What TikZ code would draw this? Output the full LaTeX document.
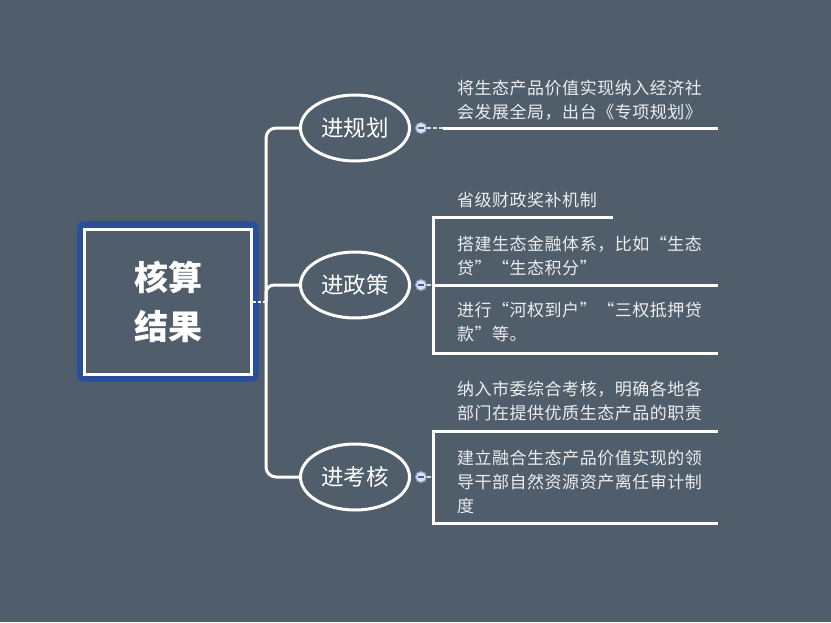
\documentclass[tikz,border=0pt]{standalone}
\usepackage{fontspec}
\newfontfamily\cjk{Noto Sans CJK SC}
\newfontfamily\cjkls{Noto Sans CJK SC}[LetterSpace=3]
\usetikzlibrary{shapes.geometric}
\definecolor{bg}{HTML}{505D6A}
\definecolor{boxblue}{HTML}{2B4E9B}
\definecolor{txt}{HTML}{ECEDEF}
\definecolor{knobfill}{HTML}{DCE1EA}
\definecolor{knobline}{HTML}{8C9CC4}
\definecolor{knobminus}{HTML}{4A5E96}
\tikzset{
  ln/.style={draw=white, line width=3pt},
  stub/.style={draw=white!80!bg, line width=2.5pt, dash pattern=on 4pt off 2pt},
  topic/.style={ellipse, draw=white, line width=3pt, fill=bg, minimum width=109pt, minimum height=66pt, inner sep=0pt, text=white, font=\cjk\fontsize{22.5}{26}\selectfont},
  knob/.style={circle, draw=knobline, fill=knobfill, line width=1pt, minimum size=11pt, inner sep=0pt},
  para/.style={anchor=west, align=left, inner sep=0pt, text=txt, font=\cjkls\fontsize{17}{24}\selectfont},
}
\begin{document}
\begin{tikzpicture}[x=1pt,y=-1pt]
\fill[bg] (0,0) rectangle (831,622);
\useasboundingbox (0,0) rectangle (831,622);

% central node
\node[rectangle, draw=white, line width=3pt, fill=bg, minimum width=166.5pt, minimum height=145pt,
      preaction={draw=boxblue, line width=16pt, line join=round},
      align=center, text=white, font=\cjk\fontsize{34}{49}\selectfont\bfseries]
  (c) at (168,301.5) {核算\\结果};

\coordinate (j) at (266,301.5);

% topics
\node[topic] (e1) at (355,128) {进规划};
\node[topic] (e2) at (355,285) {进政策};
\node[topic] (e3) at (355,477) {进考核};

% trunk
\draw[draw=white, line width=2pt, dash pattern=on 3pt off 2pt] (c.east) -- (j);
\draw[ln, rounded corners=10pt] (j) |- (e1.west);
\draw[ln, rounded corners=8pt] (j) |- (e2.west);
\draw[ln, rounded corners=10pt] (j) |- (e3.west);

% knobs
\node[knob] (k1) at (421,128) {};
\node[knob] (k2) at (421,285) {};
\node[knob] (k3) at (421,477) {};

% branch 1
\coordinate (s1) at (443,128);
\coordinate (r1) at (718,128);
\draw[stub] (k1.east) -- (s1);
\draw[ln] (s1) -- (r1);

% branch 2
\coordinate (b2t) at (433,217);
\coordinate (b2b) at (433,353);
\coordinate (t2e) at (613,217);
\coordinate (m2e) at (718,285);
\coordinate (b2e) at (718,353);
\coordinate (b2m) at (433,285);
\draw[ln, line join=miter] (t2e) -- (b2t) -- (b2b) -- (b2e);
\draw[stub] (k2.east) -- (b2m);
\draw[ln] (b2m) -- (m2e);

% branch 3
\coordinate (b3t) at (433,431);
\coordinate (b3b) at (433,523);
\coordinate (t3e) at (718,431);
\coordinate (b3e) at (718,523);
\coordinate (b3m) at (433,477);
\draw[ln, line join=miter] (t3e) -- (b3t) -- (b3b) -- (b3e);
\draw[stub] (k3.east) -- (b3m);

% knob minus signs
\foreach \k in {k1,k2,k3}{
  \draw[knobminus, line width=1.2pt] ([xshift=-3pt]\k.center) -- ([xshift=3pt]\k.center);
}

% texts
\node[para] (p1) at (457,100) {将生态产品价值实现纳入经济社\\会发展全局，出台《专项规划》};
\node[para] (p2a) at (457,200) {省级财政奖补机制};
\node[para] (p2b) at (457,255.5) {搭建生态金融体系，比如“生态\\贷”“生态积分”};
\node[para] (p2c) at (457,321.5) {进行“河权到户”“三权抵押贷\\款”等。};
\node[para] (p3a) at (457,401.5) {纳入市委综合考核，明确各地各\\部门在提供优质生态产品的职责};
\node[para] (p3b) at (457,481.5) {建立融合生态产品价值实现的领\\导干部自然资源资产离任审计制\\度};
\end{tikzpicture}
\end{document}
